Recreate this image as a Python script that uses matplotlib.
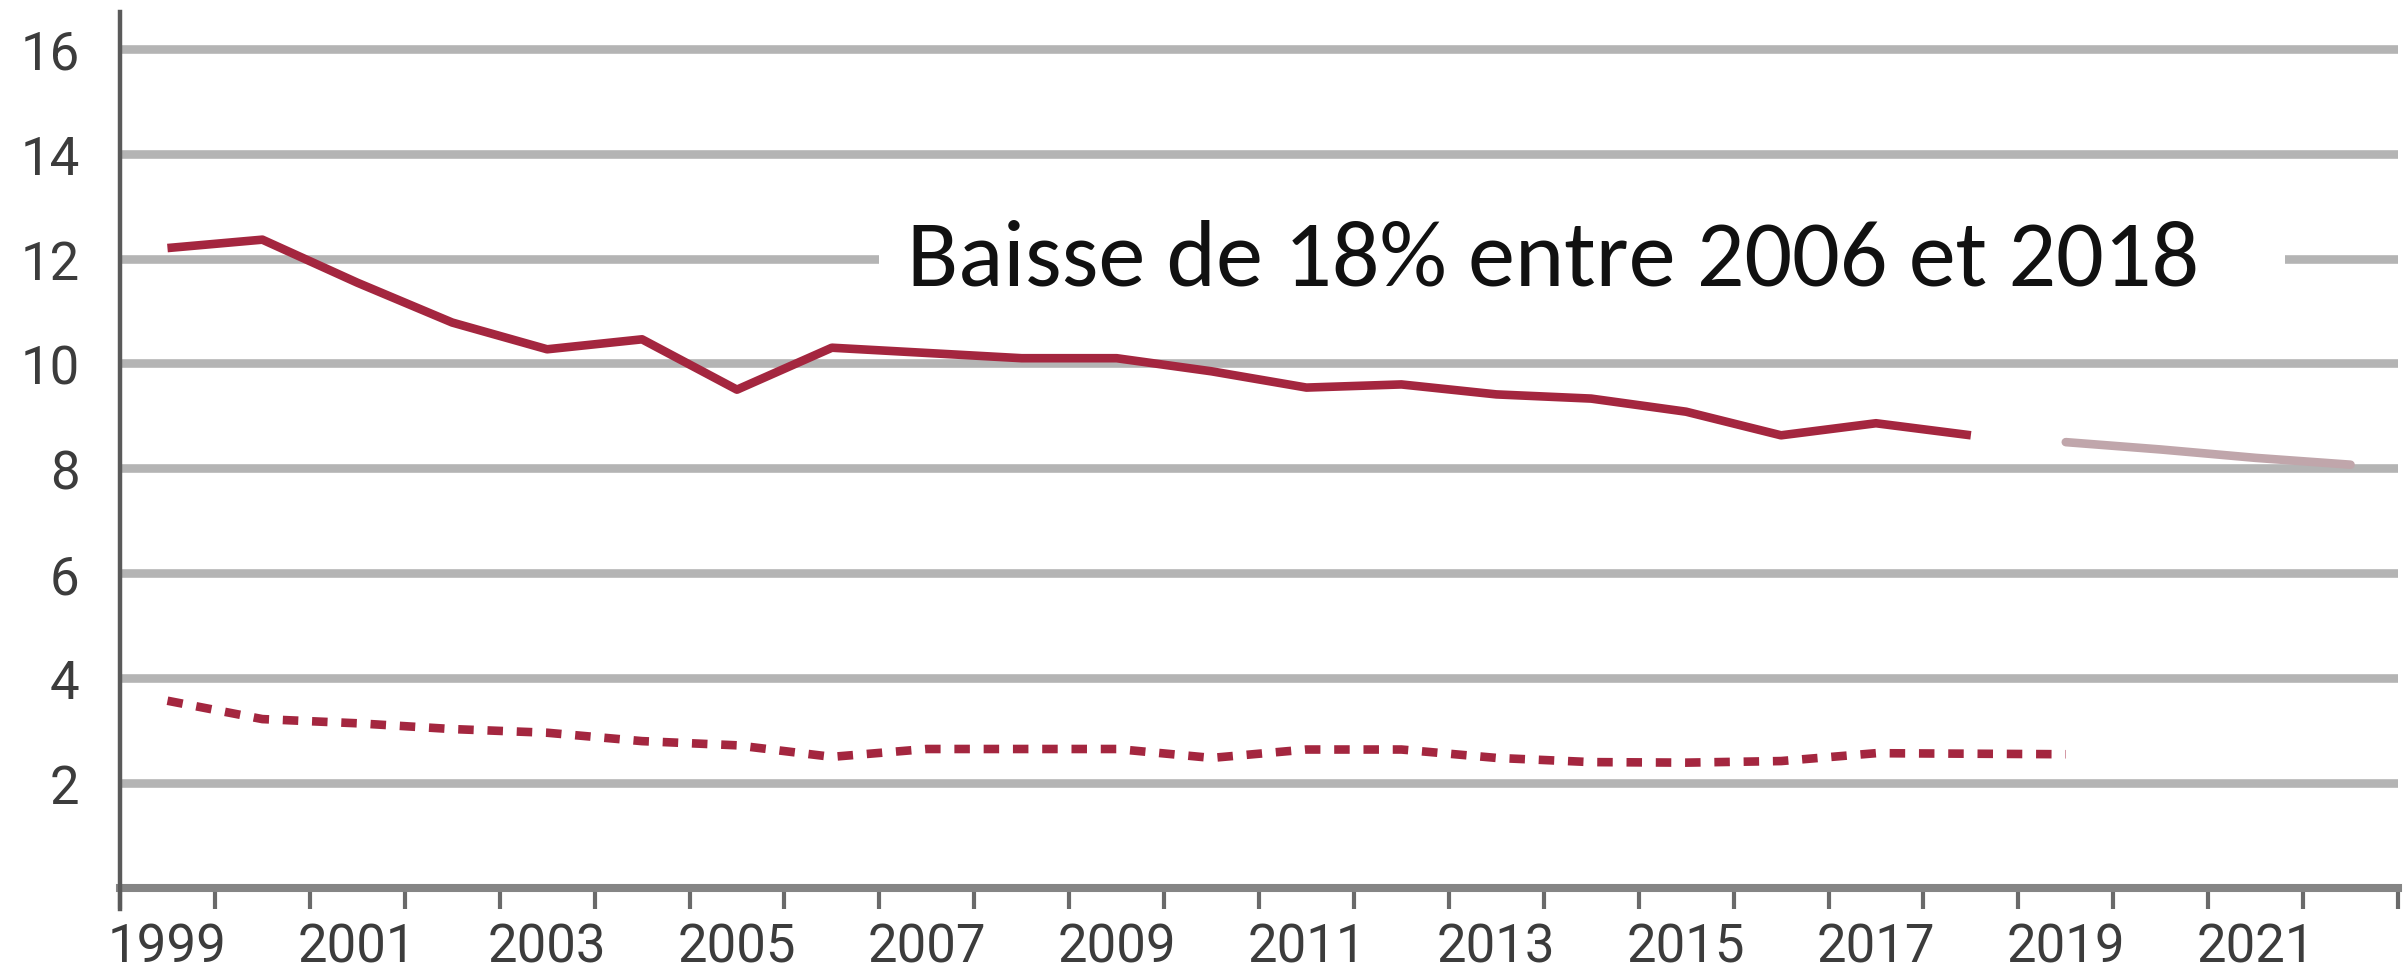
import matplotlib
matplotlib.use("Agg")
import matplotlib.pyplot as plt
from matplotlib import font_manager
from matplotlib.patches import Rectangle
from matplotlib.ticker import FixedLocator, NullFormatter, FixedFormatter

# ---------------- data ----------------
years_main = list(range(1999, 2019))
solid_vals = [12.2, 12.36, 11.54, 10.78, 10.27, 10.46, 9.5, 10.3, 10.2, 10.1,
              10.1, 9.85, 9.54, 9.6, 9.41, 9.33, 9.08, 8.63, 8.86, 8.63]
years_dash = list(range(1999, 2020))
dash_vals = [3.57, 3.22, 3.14, 3.03, 2.96, 2.8, 2.72, 2.5, 2.65, 2.65, 2.65,
             2.48, 2.64, 2.64, 2.48, 2.4, 2.39, 2.42, 2.57, 2.56, 2.55]
years_faded = [2019, 2020, 2021, 2022]
faded_vals = [8.5, 8.36, 8.2, 8.07]
x_labels = [1999, 2001, 2003, 2005, 2007, 2009, 2011, 2013, 2015, 2017, 2019, 2021]
y_ticks = [2, 4, 6, 8, 10, 12, 14, 16]
annotation = "Baisse de 18% entre 2006 et 2018"

# ---------------- fonts ----------------
avail = {f.name for f in font_manager.fontManager.ttflist}
tick_font = "Liberation Sans Narrow" if "Liberation Sans Narrow" in avail else "Roboto"
ann_font = "Carlito" if "Carlito" in avail else "Lato"

W, H = 2405, 978
fig = plt.figure(figsize=(W / 100, H / 100), dpi=100)
fig.patch.set_facecolor("white")
ax = fig.add_axes([120 / W, 1 - 889 / H, (2398 - 120) / W, (889 - 13) / H])

first, last = years_main[0], years_faded[-1]
ax.set_xlim(first - 0.5, last + 0.5)
ax.set_ylim(0, 16.7)

# grid lines
for yv in y_ticks:
    ax.axhline(yv, color="#b4b4b4", lw=6.2, zorder=1, solid_capstyle="butt")

red = "#a4263f"
ax.plot(years_main, solid_vals, color=red, lw=6.2, zorder=3,
        solid_joinstyle="round", solid_capstyle="butt")
ax.plot(years_dash, dash_vals, color=red, lw=6.2, zorder=3,
        linestyle=(0, (1.8, 1.6)), dash_capstyle="butt")
ax.plot(years_faded, faded_vals, color="#c0a6ab", lw=6.2, zorder=3,
        solid_capstyle="round")

# spines
for s in ["top", "right"]:
    ax.spines[s].set_visible(False)
ax.spines["left"].set_color("#5a5a5a")
ax.spines["left"].set_linewidth(3.2)
ax.spines["left"].set_bounds(-0.4, 16.7)
ax.spines["bottom"].set_color("#858585")
ax.spines["bottom"].set_linewidth(5.8)
ax.spines["left"].set_zorder(4)

# x ticks: marks at boundaries, labels at odd-year centres
bounds = [y - 0.5 for y in range(first, last + 2)]
ax.xaxis.set_major_locator(FixedLocator(bounds))
ax.xaxis.set_major_formatter(NullFormatter())
ax.xaxis.set_minor_locator(FixedLocator(x_labels))
ax.xaxis.set_minor_formatter(FixedFormatter([str(v) for v in x_labels]))
ax.tick_params(axis="x", which="major", length=15, width=3, color="#6a6a6a",
               direction="out")
ax.tick_params(axis="x", which="minor", length=0, pad=24, labelsize=38,
               labelcolor="#3c3c3c")
for lab in ax.xaxis.get_minorticklabels():
    lab.set_family(tick_font)

ax.set_yticks(y_ticks)
ax.set_yticklabels([str(v) for v in y_ticks])
ax.tick_params(axis="y", length=0, pad=29, labelsize=38, labelcolor="#3c3c3c")
for lab in ax.get_yticklabels():
    lab.set_family(tick_font)

# annotation with white background over the grid line
fig.add_artist(Rectangle((879 / W, 1 - 305 / H), (2285 - 879) / W, 95 / H,
                         transform=fig.transFigure, facecolor="white",
                         edgecolor="none", zorder=5))
txt = fig.text(907 / W, 1 - 286 / H, annotation, fontsize=64, family=ann_font,
               color="#111111", ha="left", va="baseline", zorder=6)
fig.canvas.draw()
w = txt.get_window_extent().width
txt.set_fontsize(64 * 1292 / w)

fig.savefig("out.png", dpi=100, facecolor="white")
